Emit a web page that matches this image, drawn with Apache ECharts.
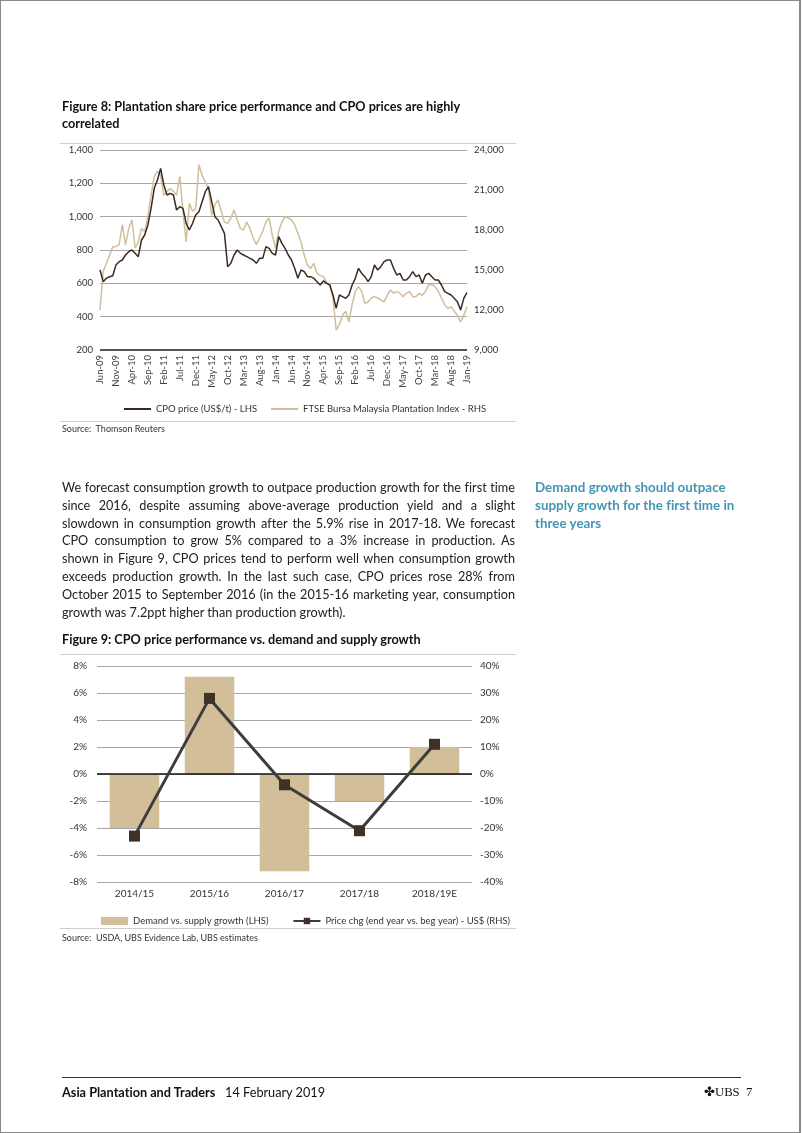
<!DOCTYPE html>
<html><head><meta charset="utf-8">
<script src="https://cdn.jsdelivr.net/npm/echarts@6/dist/echarts.min.js"></script>
<style>
html,body{margin:0;padding:0;background:#fff;}
body{width:802px;height:1133px;position:relative;overflow:hidden;font-family:Lato,"Noto Sans",sans-serif;color:#222;font-variant-ligatures:none;}
#frame{position:absolute;left:0;top:0;width:798px;height:1131px;border:1px solid #888;border-right:2px solid #888;box-sizing:content-box;pointer-events:none;z-index:5;}
#chart{position:absolute;left:0;top:0;width:802px;height:1133px;z-index:1;}
.t{position:absolute;z-index:3;white-space:nowrap;}
.ttl{font-weight:bold;font-size:12.7px;line-height:16.5px;color:#111;}
.src{font-size:9px;color:#333;}
.rule{position:absolute;height:1px;background:#cfcfcf;z-index:2;}
#para{position:absolute;left:62px;top:479px;width:453px;font-size:12.7px;line-height:17.8px;color:#222;z-index:3;}
#para div{text-align:justify;text-align-last:justify;height:17.8px;}
#para div.last{text-align:left;text-align-last:left;}
#side{position:absolute;left:535px;top:479px;width:215px;font-size:13.4px;line-height:17.8px;font-weight:bold;color:#4496b4;z-index:3;}
</style></head>
<body>
<div id="frame"></div>
<div id="chart"></div>
<div class="t ttl" style="left:62px;top:98px;">Figure 8: Plantation share price performance and CPO prices are highly<br>correlated</div>
<div class="rule" style="left:60px;top:143px;width:456px;"></div>
<div class="rule" style="left:60px;top:421px;width:456px;"></div>
<div class="t src" style="left:62px;top:423px;">Source:&nbsp; Thomson Reuters</div>
<div id="para">
<div>We forecast consumption growth to outpace production growth for the first time</div>
<div>since 2016, despite assuming above-average production yield and a slight</div>
<div>slowdown in consumption growth after the 5.9% rise in 2017-18. We forecast</div>
<div>CPO consumption to grow 5% compared to a 3% increase in production. As</div>
<div>shown in Figure 9, CPO prices tend to perform well when consumption growth</div>
<div>exceeds production growth. In the last such case, CPO prices rose 28% from</div>
<div>October 2015 to September 2016 (in the 2015-16 marketing year, consumption</div>
<div class="last">growth was 7.2ppt higher than production growth).</div>
</div>
<div id="side">Demand growth should outpace supply growth for the first time in three years</div>
<div class="t ttl" style="left:62px;top:631px;">Figure 9: CPO price performance vs. demand and supply growth</div>
<div class="rule" style="left:60px;top:654px;width:456px;"></div>
<div class="rule" style="left:60px;top:928px;width:456px;"></div>
<div class="t src" style="left:62px;top:932px;">Source:&nbsp; USDA, UBS Evidence Lab, UBS estimates</div>
<div class="rule" style="left:62px;top:1077px;width:679px;background:#333;"></div>
<div class="t" style="left:62px;top:1084px;font-size:12.7px;color:#111;"><b>Asia Plantation and Traders</b>&nbsp;&nbsp; 14 February 2019</div>
<div class="t" style="left:704px;top:1084px;font-size:12.7px;color:#111;font-family:'Liberation Serif',serif;">✤UBS&nbsp; 7</div>
<script>
// ---------- Figure 8 data (monthly, Jun-09 .. Jan-19) ----------
var monthNames = ['Jan','Feb','Mar','Apr','May','Jun','Jul','Aug','Sep','Oct','Nov','Dec'];
var startYear = 2009, startMonth = 5, monthCount = 116;
var months = [];
for (var k = 0; k < monthCount; k++) {
  var m = (startMonth + k) % 12, y = startYear + Math.floor((startMonth + k) / 12);
  months.push(monthNames[m] + '-' + String(y).slice(2));
}
var cpoPrice = [680,610,630,640,645,710,730,740,770,790,800,780,760,860,890,950,1050,1170,1220,1290,
  1190,1130,1140,1130,1040,1060,1050,960,920,960,1010,1030,1090,1150,1180,1090,1000,980,940,900,
  700,720,770,800,780,770,760,750,740,720,750,750,820,810,780,770,880,840,810,770,
  740,690,630,680,670,640,640,630,610,590,615,600,590,530,450,530,520,510,530,590,
  630,690,660,640,610,640,710,680,700,730,740,740,690,650,660,620,620,640,670,640,
  650,600,650,660,640,620,620,590,550,540,530,510,490,440,510,545];
var ftseIndex = [12000,14870,15500,16100,16750,16750,16900,18400,16900,18100,18750,16650,17100,18100,17900,19000,20600,22000,22400,22100,
  20600,20900,21100,20900,20600,22000,19400,17100,20000,19400,19600,22900,22100,21600,21100,19100,19900,20250,19400,18600,
  18500,18900,19500,18750,18100,18000,18600,18100,17400,16900,17400,17900,18600,18900,17600,16650,17900,18600,19000,18900,
  18750,18400,17750,17100,16100,15400,15100,15500,14750,14600,14500,14100,13900,12900,10500,10900,11600,11900,11100,12400,
  13400,13750,13400,12500,12600,12900,13000,12900,12750,12600,13100,13500,13250,13400,13250,13000,13250,13400,13000,13000,
  13250,13100,13400,13900,13900,13750,13400,12900,12400,12100,12250,11900,11600,11100,11600,12250];

// ---------- Figure 9 data ----------
var years = ['2014/15','2015/16','2016/17','2017/18','2018/19E'];
var demandVsSupply = [-4.0, 7.2, -7.2, -2.0, 2.0];   // % (LHS)
var priceChange = [-23, 28, -4, -21, 11];              // % (RHS)

function comma(v){ return v.toLocaleString('en-US'); }

var chart = echarts.init(document.getElementById('chart'), null, {renderer:'canvas'});
var axisText = {color:'#333', fontSize:9.5, fontFamily:'Lato, "Noto Sans", sans-serif'};
chart.setOption({
  animation:false,
  textStyle:{fontFamily:'Lato, "Noto Sans", sans-serif'},
  grid:[
    {left:100, top:150, width:367, height:200},
    {left:97, top:666, width:375, height:216}
  ],
  xAxis:[
    {gridIndex:0, type:'category', data:months, boundaryGap:false,
     axisLine:{show:false}, axisTick:{show:false},
     axisLabel:Object.assign({}, axisText, {rotate:90, interval:4, margin:5, fontSize:9.5, color:'#444'})},
    {gridIndex:1, type:'category', data:years,
     axisLine:{show:false}, axisTick:{show:false},
     axisLabel:Object.assign({}, axisText, {margin:7, fontSize:10})}
  ],
  yAxis:[
    {gridIndex:0, type:'value', min:200, max:1400, interval:200,
     axisLine:{show:false}, axisTick:{show:false},
     axisLabel:Object.assign({}, axisText, {margin:7, formatter:comma}),
     splitLine:{lineStyle:{color:'#a8a8a8', width:1}}},
    {gridIndex:0, type:'value', min:9000, max:24000, interval:3000, position:'right',
     axisLine:{show:false}, axisTick:{show:false},
     axisLabel:Object.assign({}, axisText, {margin:7, formatter:comma}),
     splitLine:{show:false}},
    {gridIndex:1, type:'value', min:-8, max:8, interval:2,
     axisLine:{show:false}, axisTick:{show:false},
     axisLabel:Object.assign({}, axisText, {margin:10, formatter:'{value}%', fontSize:10}),
     splitLine:{lineStyle:{color:'#a8a8a8', width:1}}},
    {gridIndex:1, type:'value', min:-40, max:40, interval:10, position:'right',
     axisLine:{show:false}, axisTick:{show:false},
     axisLabel:Object.assign({}, axisText, {margin:8, formatter:'{value}%', fontSize:10}),
     splitLine:{show:false}}
  ],
  legend:[
    {left:118, top:399, itemWidth:27, itemHeight:2, itemGap:13,
     textStyle:{color:'#333', fontSize:9.5},
     data:['CPO price (US$/t) - LHS','FTSE Bursa Malaysia Plantation Index - RHS']},
    {left:96, top:911, itemWidth:27, itemHeight:8, itemGap:24,
     textStyle:{color:'#333', fontSize:9.5},
     data:[{name:'Demand vs. supply growth (LHS)', icon:'rect'},
           {name:'Price chg (end year vs. beg year) - US$ (RHS)'}]}
  ],
  series:[
    {name:'FTSE Bursa Malaysia Plantation Index - RHS', type:'line', xAxisIndex:0, yAxisIndex:1,
     data:ftseIndex, symbol:'none', lineStyle:{color:'#cfbf9d', width:1.5}, itemStyle:{color:'#cfbf9d'}},
    {name:'CPO price (US$/t) - LHS', type:'line', xAxisIndex:0, yAxisIndex:0,
     data:cpoPrice, symbol:'none', lineStyle:{color:'#3b2a22', width:1.5}, itemStyle:{color:'#3b2a22'},
     markLine:{silent:true, symbol:'none', label:{show:false}, animation:false,
       lineStyle:{color:'#555', width:2, type:'solid'}, data:[{yAxis:200}]}},
    {name:'Demand vs. supply growth (LHS)', type:'bar', xAxisIndex:1, yAxisIndex:2,
     data:demandVsSupply, barWidth:'66%', itemStyle:{color:'#d2bf9a'},
     markLine:{silent:true, symbol:'none', label:{show:false},
       lineStyle:{color:'#111', width:1.5, type:'solid'}, data:[{yAxis:0}]}},
    {name:'Price chg (end year vs. beg year) - US$ (RHS)', type:'line', xAxisIndex:1, yAxisIndex:3,
     data:priceChange, symbol:'rect', symbolSize:11,
     lineStyle:{color:'#3d3d3d', width:3}, itemStyle:{color:'#3e3128'}, z:5}
  ]
});
</script>
</body></html>
